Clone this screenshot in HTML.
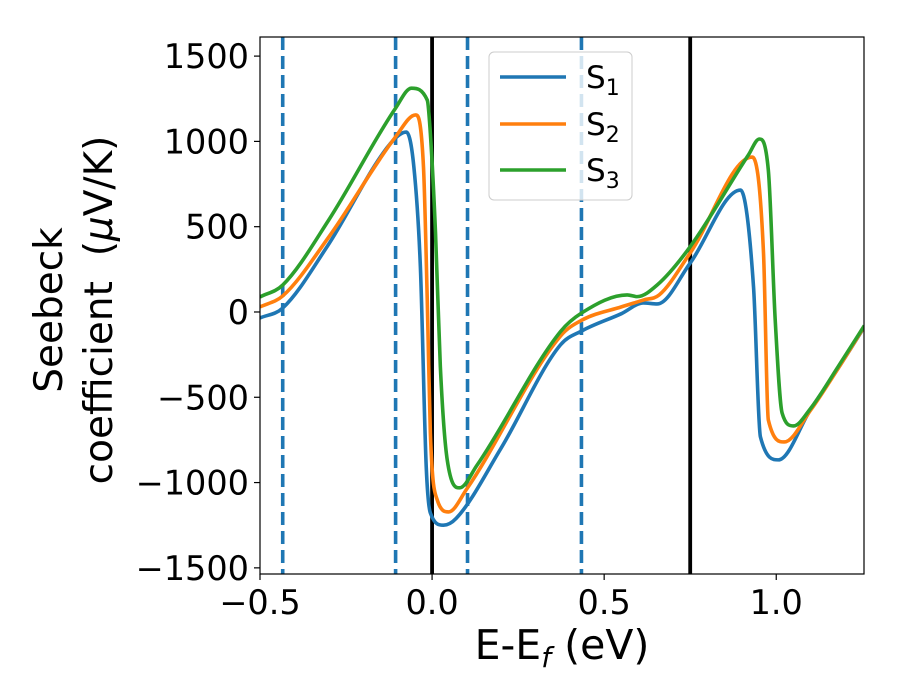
<!DOCTYPE html>
<html><head><meta charset="utf-8"><style>
body{margin:0;background:#fff}
svg{display:block;font-family:"DejaVu Sans","Liberation Sans",sans-serif}
</style></head><body>
<svg id="chart" width="900" height="700" viewBox="0 0 900 700">
<rect x="0" y="0" width="900" height="700" fill="#fff"/>
<defs><clipPath id="pc"><rect x="260" y="37" width="604" height="537"/></clipPath></defs>
<g id="vlines" clip-path="url(#pc)"></g>
<g id="series" clip-path="url(#pc)"></g>
<rect x="260" y="37" width="604" height="537" fill="none" stroke="#000" stroke-width="1.2"/>
<g id="xticks"></g>
<g id="yticks"></g>
<text x="562" y="659" font-size="41" text-anchor="middle">E-E<tspan font-style="italic" font-size="28" dy="8">f</tspan><tspan dy="-8"> (eV)</tspan></text>
<g transform="translate(62,310) rotate(-90)">
<text x="0" y="0" font-size="39" text-anchor="middle">Seebeck</text>
<text x="0" y="50" font-size="39" text-anchor="middle" xml:space="preserve">coefficient  (<tspan font-style="italic">μ</tspan>V/K)</text>
</g>
<g>
<rect x="489" y="52" width="143" height="148" rx="5" fill="#fff" fill-opacity="0.8" stroke="#ccc" stroke-width="1"/>
<g><line x1="500" y1="77" x2="566" y2="77" stroke="#1f77b4" stroke-width="3.5"/><text x="586" y="88" font-size="31">S<tspan font-size="22" dy="7">1</tspan></text></g>
<g><line x1="500" y1="124" x2="566" y2="124" stroke="#ff7f0e" stroke-width="3.5"/><text x="586" y="135" font-size="31">S<tspan font-size="22" dy="7">2</tspan></text></g>
<g><line x1="500" y1="170" x2="566" y2="170" stroke="#2ca02c" stroke-width="3.5"/><text x="586" y="181" font-size="31">S<tspan font-size="22" dy="7">3</tspan></text></g>
</g>
</svg>
<script>
const xTicks=[-0.5,0.0,0.5,1.0];
const xTickLabels=["\u22120.5","0.0","0.5","1.0"];
const yTicks=[-1500,-1000,-500,0,500,1000,1500];
const yTickLabels=["\u22121500","\u22121000","\u2212500","0","500","1000","1500"];
const dashedLines=[-0.434,-0.106,0.103,0.434];
const solidLines=[0.0,0.75];
const s1x=[-0.5,-0.434,-0.305,-0.12,-0.075,-0.053,-0.034,-0.017,-0.005,0.033,0.07,0.2,0.373,0.436,0.55,0.614,0.654,0.75,0.896,0.934,0.954,1.006,1.1,1.18,1.256];
const s1y=[-35,23,383,990,1055,852,265,-908,-1178,-1250,-1210,-800,-193,-110,-10,53,47,287,715,147,-732,-867,-570,-330,-88];
const s2x=[-0.5,-0.434,-0.3,-0.106,-0.048,-0.025,-0.014,-0.005,0.015,0.048,0.1,0.373,0.436,0.55,0.614,0.66,0.75,0.93,0.963,0.977,1.023,1.1,1.18,1.256];
const s2y=[30,94,440,1027,1155,851,70,-710,-1102,-1172,-1040,-141,-47,30,70,100,346,908,346,-633,-762,-575,-330,-85];
const s3x=[-0.5,-0.434,-0.3,-0.106,-0.06,-0.014,-0.005,0.01,0.024,0.044,0.08,0.13,0.373,0.436,0.567,0.596,0.654,0.75,0.919,0.951,0.977,0.997,1.017,1.05,1.1,1.18,1.256];
const s3y=[88,158,540,1195,1312,1242,1047,462,-320,-867,-1031,-900,-115,-4,100,90,158,383,920,1014,832,-47,-592,-668,-565,-320,-80];

const X0=260,X1=864,Y0=574,Y1=37,xmin=-0.5,xmax=1.255,ymin=-1536,ymax=1612;
const sx=v=>X0+(v-xmin)/(xmax-xmin)*(X1-X0);
const sy=v=>Y0-(v-ymin)/(ymax-ymin)*(Y0-Y1);
const NS="http://www.w3.org/2000/svg";
function mk(t,a,p){const e=document.createElementNS(NS,t);for(const k in a)e.setAttribute(k,a[k]);p.appendChild(e);return e;}

const xt=document.getElementById('xticks');
xTicks.forEach((v,i)=>{
 const l=mk('line',{x1:sx(v),x2:sx(v),y1:574,y2:580,stroke:'#000','stroke-width':1.2},xt);
 
 
 const t=mk('text',{x:sx(v),y:614,'font-size':33.5,'text-anchor':'middle'},xt);
 t.textContent=xTickLabels[i];
 
 
});
const yt=document.getElementById('yticks');
yTicks.forEach((v,i)=>{
 const l=mk('line',{x1:254,x2:260,y1:sy(v),y2:sy(v),stroke:'#000','stroke-width':1.2},yt);
 
 
 const t=mk('text',{x:249,y:sy(v)+12,'font-size':33.5,'text-anchor':'end'},yt);
 t.textContent=yTickLabels[i];
 
 
});
const vl=document.getElementById('vlines');
dashedLines.forEach(v=>{
 const l=mk('line',{x1:sx(v),x2:sx(v),y1:37,y2:574,stroke:'#1f77b4','stroke-width':3.6,'stroke-dasharray':'13,6'},vl);
 
 
});
solidLines.forEach(v=>{
 const l=mk('line',{x1:sx(v),x2:sx(v),y1:37,y2:574,stroke:'#000','stroke-width':3.8},vl);
 
 
});

function monoPath(xs,ys){
 const n=xs.length,px=xs.map(sx),py=ys.map(sy),d=[],m=[];
 for(let i=0;i<n-1;i++)d.push((py[i+1]-py[i])/(px[i+1]-px[i]));
 m[0]=d[0];m[n-1]=d[n-2];
 for(let i=1;i<n-1;i++){m[i]=(d[i-1]*d[i]<=0)?0:(d[i-1]+d[i])/2;}
 for(let i=0;i<n-1;i++){if(d[i]===0){m[i]=m[i+1]=0;continue;}const a=m[i]/d[i],b=m[i+1]/d[i],s=a*a+b*b;if(s>9){const t=3/Math.sqrt(s);m[i]=t*a*d[i];m[i+1]=t*b*d[i];}}
 let p='M'+px[0]+','+py[0];
 for(let i=0;i<n-1;i++){const h=(px[i+1]-px[i])/3;p+=' C'+(px[i]+h)+','+(py[i]+m[i]*h)+' '+(px[i+1]-h)+','+(py[i+1]-m[i+1]*h)+' '+px[i+1]+','+py[i+1];}
 return p;
}
const sg=document.getElementById('series');
[[s1x,s1y,'#1f77b4','series-s1'],[s2x,s2y,'#ff7f0e','series-s2'],[s3x,s3y,'#2ca02c','series-s3']].forEach(s=>{
 const p=mk('path',{d:monoPath(s[0],s[1]),fill:'none',stroke:s[2],'stroke-width':3.6,'stroke-linejoin':'round'},sg);
 
 
});
</script>
</body></html>
